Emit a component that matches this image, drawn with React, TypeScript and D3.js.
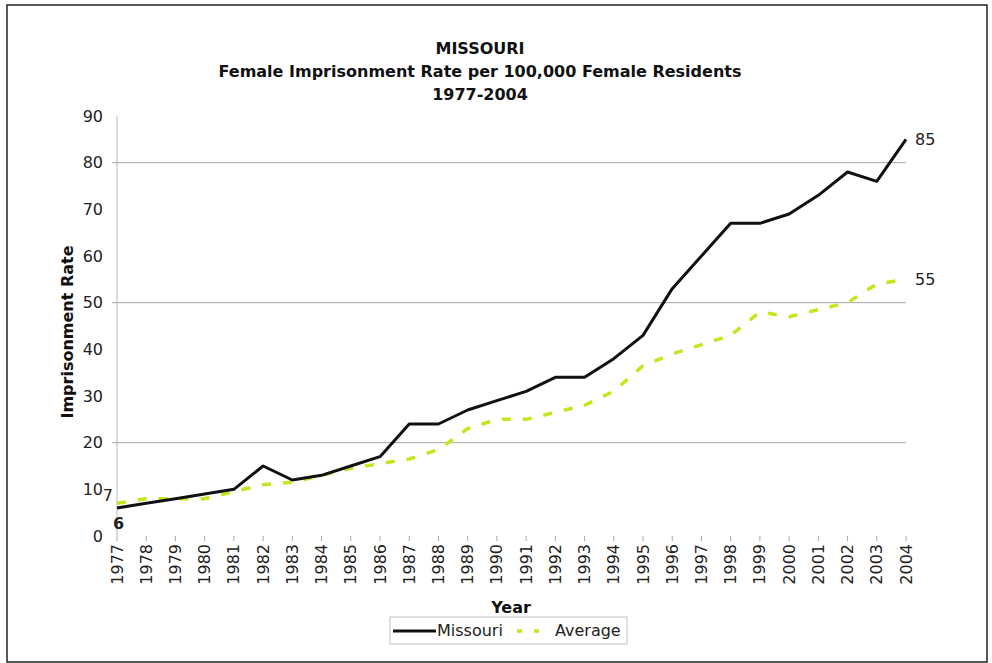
import { FC, useMemo } from 'react';
import * as d3 from 'd3';

const years = [
  1977, 1978, 1979, 1980, 1981, 1982, 1983, 1984, 1985, 1986, 1987, 1988, 1989, 1990,
  1991, 1992, 1993, 1994, 1995, 1996, 1997, 1998, 1999, 2000, 2001, 2002, 2003, 2004,
];
const missouri = [
  6, 7, 8, 9, 10, 15, 12, 13, 15, 17, 24, 24, 27, 29,
  31, 34, 34, 38, 43, 53, 60, 67, 67, 69, 73, 78, 76, 85,
];
const average = [
  7, 8, 8, 8, 9.5, 11, 11.5, 13, 14.5, 15.5, 16.5, 18.5, 23, 25,
  25, 26.5, 28, 31, 36.5, 39, 41, 43, 48, 47, 48.5, 50, 54, 55,
];
const yTicks = [0, 10, 20, 30, 40, 50, 60, 70, 80, 90];
const gridValues = [20, 50, 80];
const titleLines = ['MISSOURI', 'Female Imprisonment Rate per 100,000 Female Residents', '1977-2004'];

const WIDTH = 992, HEIGHT = 663;
const MARGIN = { top: 116, right: 86, bottom: 127, left: 117 };
const FONT = '"DejaVu Sans", Verdana, sans-serif';
const AVG_COLOR = '#c9e41c';

const App: FC = () => {
  const boundsWidth = WIDTH - MARGIN.left - MARGIN.right;
  const boundsHeight = HEIGHT - MARGIN.top - MARGIN.bottom;

  const xScale = useMemo(() => d3.scalePoint<number>().domain(years).range([0, boundsWidth]), [boundsWidth]);
  const yScale = useMemo(() => d3.scaleLinear().domain([0, 90]).range([boundsHeight, 0]), [boundsHeight]);

  const line = d3
    .line<number>()
    .x((_, i) => xScale(years[i]) as number)
    .y((d) => yScale(d));

  const missPath = line(missouri) || '';
  const avgPath = line(average) || '';
  const last = years.length - 1;

  return (
    <svg width={WIDTH} height={HEIGHT} style={{ position: 'absolute', left: 0, top: 0 }} fontFamily={FONT}>
      <rect x={0} y={0} width={WIDTH} height={HEIGHT} fill="#fff" />
      <rect x={7} y={5} width={980} height={657} fill="none" stroke="#222" strokeWidth={1.5} />

      {titleLines.map((t, i) => (
        <text key={t} x={480} y={54 + i * 23} textAnchor="middle" fontWeight="bold" fontSize={16} fill="#111">
          {t}
        </text>
      ))}

      <g transform={`translate(${MARGIN.left},${MARGIN.top})`}>
        {gridValues.map((v) => (
          <line key={v} x1={0} x2={boundsWidth} y1={yScale(v)} y2={yScale(v)} stroke="#a6a6a6" strokeWidth={1} />
        ))}
        <line x1={0} x2={0} y1={0} y2={boundsHeight} stroke="#b8b8b8" strokeWidth={1} />
        {gridValues.map((v) => (
          <line key={'t' + v} x1={-5} x2={0} y1={yScale(v)} y2={yScale(v)} stroke="#a6a6a6" />
        ))}
        {yTicks.map((v) => (
          <text key={v} x={-14} y={yScale(v)} dy="0.35em" textAnchor="end" fontSize={16} fill="#222">
            {v}
          </text>
        ))}
        {years.map((yr) => (
          <g key={yr} transform={`translate(${xScale(yr)},${boundsHeight})`}>
            <line y1={0} y2={5} stroke="#a6a6a6" />
            <text transform="rotate(-90)" x={-8} dy="0.35em" textAnchor="end" fontSize={16} fill="#222">
              {yr}
            </text>
          </g>
        ))}

        <path d={avgPath} fill="none" stroke={AVG_COLOR} strokeWidth={3.5} strokeDasharray="9,12" />
        <path d={missPath} fill="none" stroke="#111" strokeWidth={3} strokeLinejoin="round" />

        <text x={(xScale(years[0]) as number) - 4} y={yScale(missouri[0]) + 21} textAnchor="start" fontSize={16} fontWeight="bold" fill="#222">
          {missouri[0]}
        </text>
        <text x={-4} y={yScale(average[0]) - 2} textAnchor="end" fontSize={16} fill="#222">
          {average[0]}
        </text>
        <text x={(xScale(years[last]) as number) + 9} y={yScale(missouri[last]) + 6} fontSize={16} fill="#222">
          {missouri[last]}
        </text>
        <text x={(xScale(years[last]) as number) + 9} y={yScale(average[last]) + 6} fontSize={16} fill="#222">
          {average[last]}
        </text>
      </g>

      <text
        transform={`translate(73,${MARGIN.top + boundsHeight / 2 + 6}) rotate(-90)`}
        textAnchor="middle"
        fontSize={16}
        fontWeight="bold"
        fill="#111"
      >
        Imprisonment Rate
      </text>
      <text x={511} y={613} textAnchor="middle" fontSize={16} fontWeight="bold" fill="#111">
        Year
      </text>

      <g transform="translate(390,617)">
        <rect x={0} y={0} width={237} height={27} fill="#fff" stroke="#bfbfbf" />
        <line x1={3} x2={46} y1={14} y2={14} stroke="#111" strokeWidth={3} />
        <text x={47} y={19} fontSize={16} fill="#222">Missouri</text>
        <line x1={127} x2={151} y1={14} y2={14} stroke={AVG_COLOR} strokeWidth={3.5} strokeDasharray="5,12" />
        <text x={165} y={19} fontSize={16} fill="#222">Average</text>
      </g>
    </svg>
  );
};

export default App;
